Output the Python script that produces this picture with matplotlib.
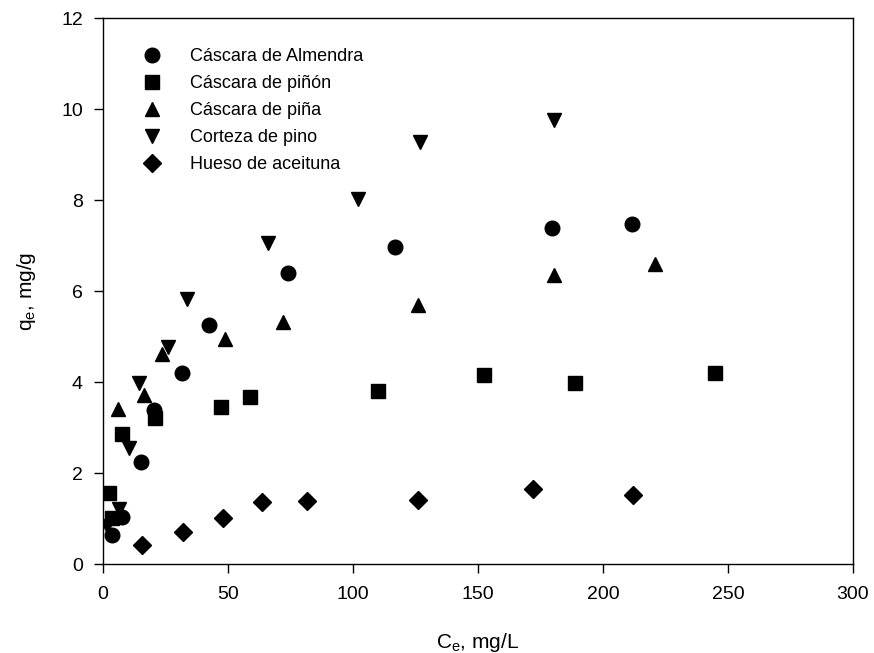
import matplotlib.pyplot as plt

plt.rcParams['font.family'] = ['Liberation Sans', 'DejaVu Sans']
plt.rcParams['mathtext.default'] = 'regular'

# Isotermas de adsorción: Ce (mg/L) frente a qe (mg/g)
almendra_x = [3.5, 7.5, 15.1, 20.5, 31.4, 42.5, 73.9, 116.8, 179.7, 211.5]
almendra_y = [0.64, 1.04, 2.25, 3.38, 4.21, 5.25, 6.39, 6.98, 7.38, 7.48]

pinon_x = [2.4, 3.4, 7.5, 20.9, 47.2, 58.7, 110.1, 152.2, 188.8, 244.8]
pinon_y = [1.56, 1.02, 2.87, 3.21, 3.46, 3.67, 3.80, 4.16, 3.99, 4.20]

pina_x = [5.9, 16.4, 23.4, 48.8, 72.1, 126.1, 180.4, 220.8]
pina_y = [3.42, 3.71, 4.62, 4.94, 5.32, 5.69, 6.35, 6.59]

pino_x = [1.5, 6.5, 10.5, 14.2, 25.8, 33.7, 65.9, 102.1, 126.8, 180.4]
pino_y = [0.84, 1.21, 2.56, 3.98, 4.78, 5.83, 7.06, 8.02, 9.27, 9.76]

aceituna_x = [15.5, 32.0, 48.0, 63.5, 81.5, 126.1, 171.9, 212.1]
aceituna_y = [0.42, 0.71, 1.01, 1.36, 1.38, 1.41, 1.65, 1.51]

fig = plt.figure(figsize=(8.74, 6.53), dpi=100)
ax = fig.add_axes([0.118, 0.136, 0.858, 0.836])

ax.plot(almendra_x, almendra_y, 'o', color='black', ms=10.5, label='Cáscara de Almendra')
ax.plot(pinon_x, pinon_y, 's', color='black', ms=9.5, label='Cáscara de piñón')
ax.plot(pina_x, pina_y, '^', color='black', ms=10.5, label='Cáscara de piña')
ax.plot(pino_x, pino_y, 'v', color='black', ms=10.5, label='Corteza de pino')
ax.plot(aceituna_x, aceituna_y, 'D', color='black', ms=9, label='Hueso de aceituna')

ax.set_xlim(0, 300)
ax.set_ylim(0, 12)
ax.set_xticks(range(0, 301, 50))
ax.set_yticks(range(0, 13, 2))
ax.tick_params(direction='out', length=6.5, width=1, labelsize=14, top=False, right=False)
ax.tick_params(axis='x', pad=9)
ax.tick_params(axis='y', pad=8)
for s in ax.spines.values():
    s.set_linewidth(1)

ax.set_xlabel('C$_e$, mg/L', fontsize=15, labelpad=20.5)
ax.set_ylabel('q$_e$, mg/g', fontsize=15, labelpad=17)

ax.legend(loc='upper left', bbox_to_anchor=(0.02, 0.975), frameon=False, fontsize=13,
          handletextpad=1.1, labelspacing=0.55, borderpad=0.4)

fig.savefig('out.png', dpi=100)
